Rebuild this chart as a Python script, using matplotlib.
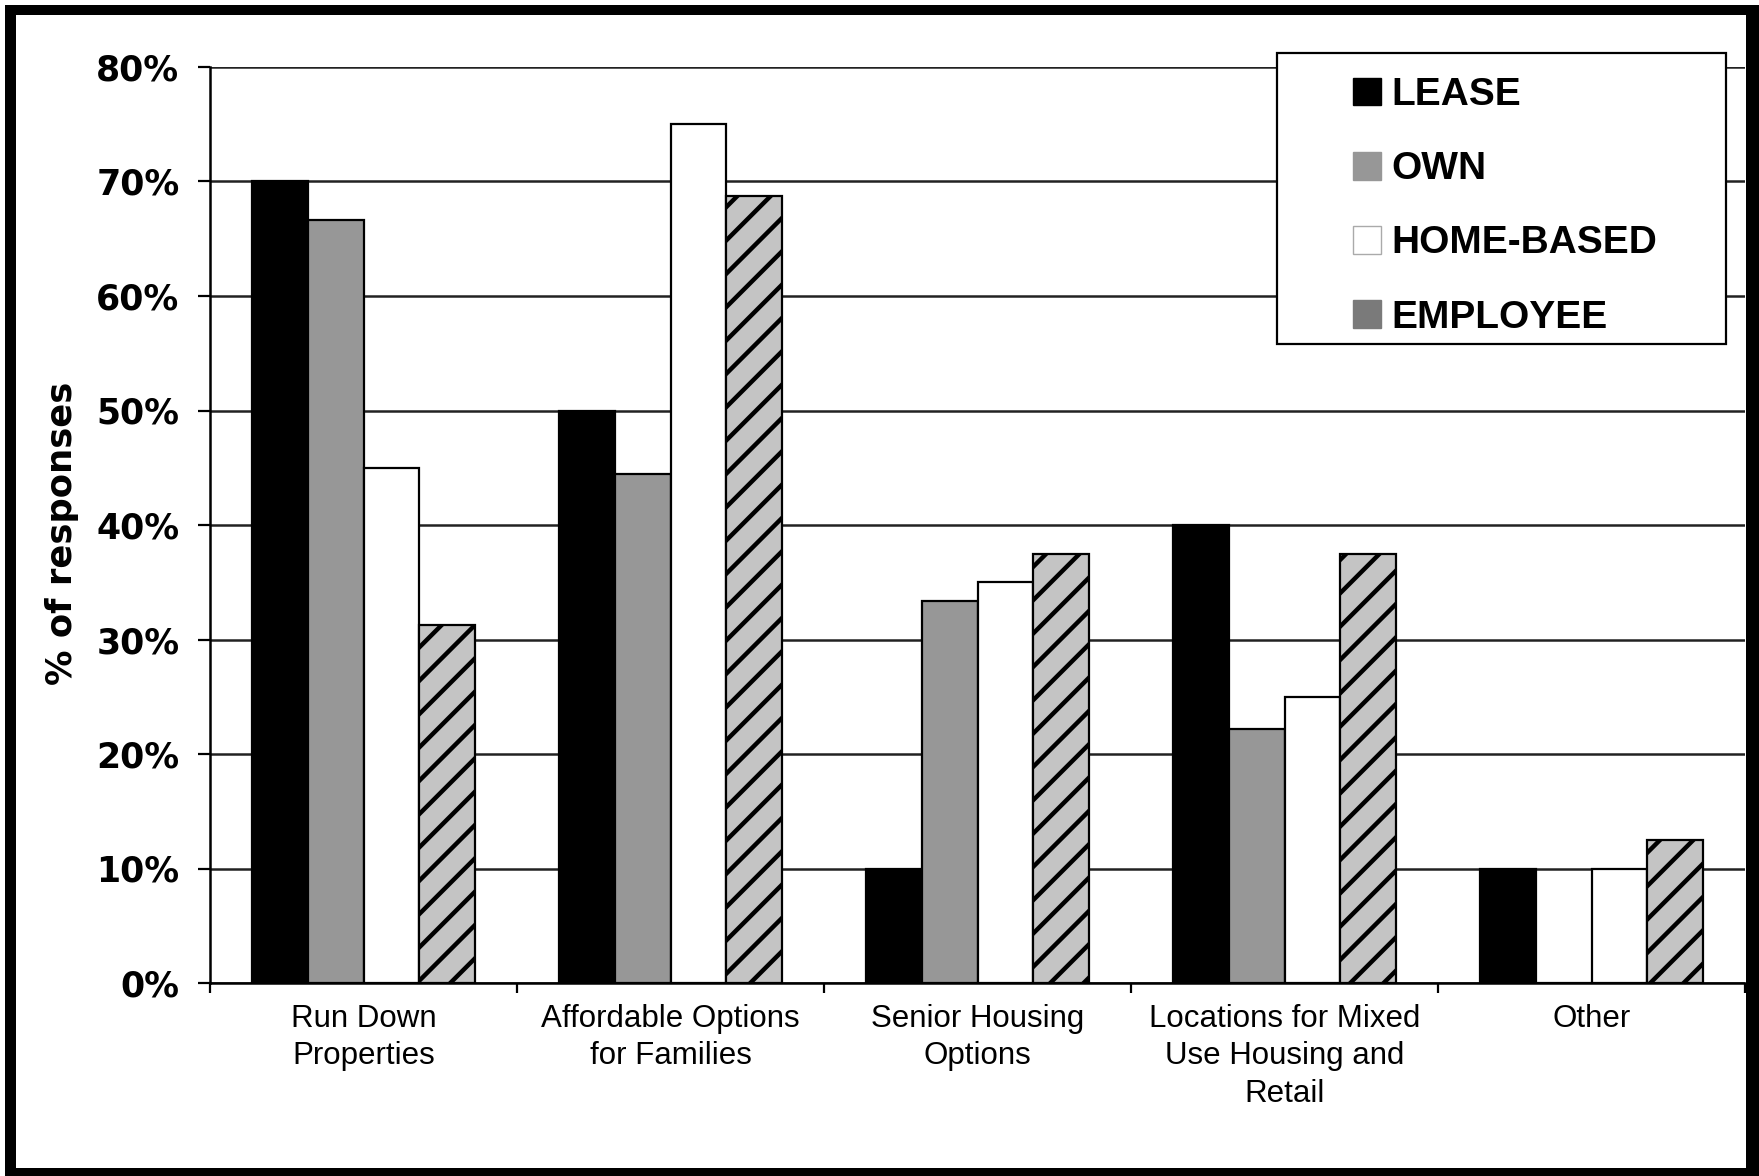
import matplotlib
matplotlib.use("Agg")
import matplotlib.pyplot as plt
import numpy as np
from matplotlib.patches import Patch, Rectangle

categories = ["Run Down\nProperties", "Affordable Options\nfor Families",
              "Senior Housing\nOptions", "Locations for Mixed\nUse Housing and\nRetail",
              "Other"]
series_names = ["LEASE", "OWN", "HOME-BASED", "EMPLOYEE"]
lease = [70.0, 50.0, 10.0, 40.0, 10.0]
own = [66.67, 44.44, 33.33, 22.22, 0.0]
home_based = [45.0, 75.0, 35.0, 25.0, 10.0]
employee = [31.25, 68.75, 37.5, 37.5, 12.5]
y_ticks = [0, 10, 20, 30, 40, 50, 60, 70, 80]
y_tick_labels = [f"{v}%" for v in y_ticks]

W, H = 1759, 1176
plt.rcParams["hatch.linewidth"] = 3.2
fig = plt.figure(figsize=(W / 100, H / 100), dpi=100)
fig.patch.set_facecolor("white")

ax = fig.add_axes([210 / W, 1 - 983 / H, (1745 - 210) / W, (983 - 67) / H])

n_series = 4
bw = 1.0 / (n_series + 1.5)
x = np.arange(len(categories))
styles = [
    dict(color="black", edgecolor="black"),
    dict(color="#979797", edgecolor="black"),
    dict(color="white", edgecolor="black"),
    dict(color="#c4c4c4", edgecolor="black", hatch="/"),
]
all_vals = [lease, own, home_based, employee]
for i, (vals, st) in enumerate(zip(all_vals, styles)):
    offs = (i - (n_series - 1) / 2) * bw
    ax.bar(x + offs, vals, width=bw, linewidth=1.6, zorder=3, **st)

ax.set_xlim(-0.5, len(categories) - 0.5)
ax.set_ylim(0, 80)

ax.set_yticks(y_ticks)
ax.set_yticklabels(y_tick_labels, fontfamily="DejaVu Sans", fontweight="bold", fontsize=25)
ax.yaxis.grid(True, color="#222222", linewidth=1.8, zorder=0)
ax.set_axisbelow(True)

# group boundaries as major ticks, names centred as minor ticks
ax.set_xticks(np.arange(len(categories) + 1) - 0.5)
ax.set_xticklabels([])
ax.set_xticks(x, minor=True)
ax.set_xticklabels(categories, minor=True, fontfamily="Liberation Sans", fontsize=22.5,
                   linespacing=1.32)
ax.tick_params(axis="x", which="major", length=7, width=1.6, direction="out", color="black")
ax.tick_params(axis="x", which="minor", length=0, pad=15)
ax.tick_params(axis="y", length=9, width=1.6, direction="out", pad=13, color="black")

for s in ["top", "right"]:
    ax.spines[s].set_visible(False)
for s in ["left", "bottom"]:
    ax.spines[s].set_linewidth(1.8)
    ax.spines[s].set_color("black")

fig.text(62 / W, 1 - 533 / H, "% of responses", rotation=90, ha="center", va="center",
         fontfamily="DejaVu Sans", fontweight="bold", fontsize=25.5)

# legend box
fig.patches.append(Rectangle((1277 / W, 1 - 344 / H), (1726 - 1277) / W, (344 - 53) / H,
                             transform=fig.transFigure, facecolor="white",
                             edgecolor="black", linewidth=1.6, zorder=5))
handles = [
    Patch(facecolor="black", edgecolor="black"),
    Patch(facecolor="#979797", edgecolor="#979797"),
    Patch(facecolor="white", edgecolor="#aaaaaa"),
    Patch(facecolor="#7a7a7a", edgecolor="#7a7a7a"),
]
leg = fig.legend(handles, series_names, loc="upper left",
                 bbox_to_anchor=(1326 / W, 1 - 50 / H), frameon=False,
                 prop=dict(family="Liberation Sans", weight="bold", size=28),
                 handlelength=0.72, handleheight=0.72, handletextpad=0.25,
                 labelspacing=0.98, borderpad=0.2)
leg.set_zorder(6)

# outer black frame
frame = [(5, 5, 11, 1171), (5, 5, 1754, 10), (1746, 5, 13, 1171), (5, 1168, 1754, 8)]
for fx, fy, fw, fh in frame:
    fig.patches.append(Rectangle((fx / W, 1 - (fy + fh) / H), fw / W, fh / H,
                                 transform=fig.transFigure, facecolor="black",
                                 edgecolor="none", zorder=10))

fig.savefig("out.png", dpi=100)
